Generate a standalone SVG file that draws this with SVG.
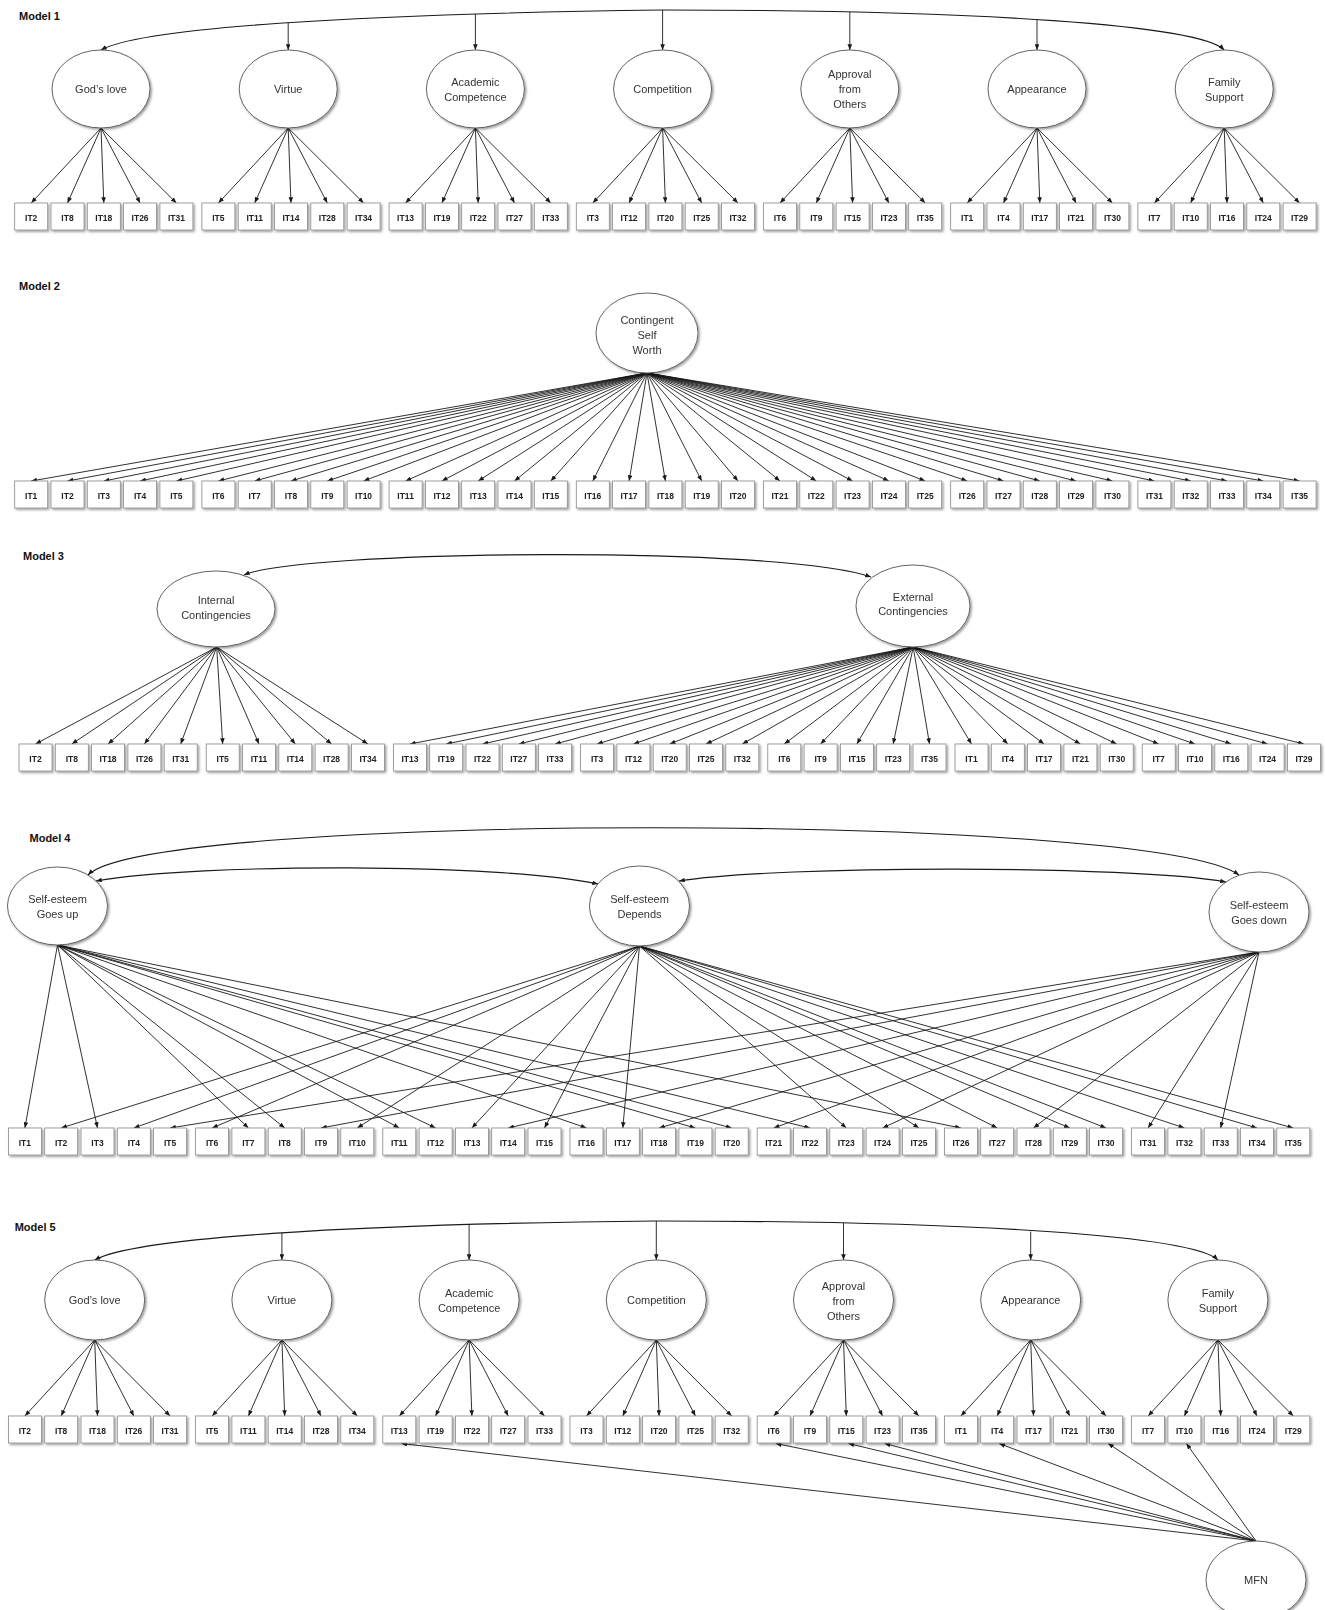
<svg xmlns="http://www.w3.org/2000/svg" width="1325" height="1610" viewBox="0 0 1325 1610">
<style>
.title{font-family:'Liberation Sans',Arial,sans-serif;font-weight:bold;font-size:11px;fill:#111}
.lab{font-family:'Liberation Sans',Arial,sans-serif;font-size:11px;fill:#333;text-anchor:middle}
.box rect{fill:#fff;stroke:#8a8a8a;stroke-width:0.8}
.box text{font-family:'Liberation Sans',Arial,sans-serif;font-weight:bold;font-size:8.5px;fill:#222;text-anchor:middle}
.lat ellipse{fill:#fff;stroke:#555;stroke-width:0.9}
.ln{stroke:#1a1a1a;stroke-width:0.9;fill:none;marker-end:url(#ah)}
.cv{stroke:#1a1a1a;stroke-width:1.1;fill:none;marker-start:url(#ah);marker-end:url(#ah)}
</style>
<defs>
<marker id="ah" viewBox="0 0 10 8" refX="10" refY="4" markerWidth="6" markerHeight="4.6" markerUnits="userSpaceOnUse" orient="auto-start-reverse"><path d="M0,0 L10,4 L0,8 z" fill="#1a1a1a"/></marker>
<filter id="sh" x="-5%" y="-5%" width="110%" height="120%"><feDropShadow dx="1.5" dy="1.5" stdDeviation="1" flood-color="#000" flood-opacity="0.4"/></filter>
</defs>
<rect width="1325" height="1610" fill="#fff"/>

<!-- ================= MODEL 1 ================= -->
<g id="model1">
<text class="title" x="19" y="20">Model 1</text>
<g transform="translate(14.7 0)">
<g id="m1-connectors">
<path class="cv" d="M86.3,50 C125.3,28 335.3,14 647.9,10 C965.3,10 1185.3,25 1209.5,50"/>
<line class="ln" x1="273.5" y1="22.6" x2="273.5" y2="50"/>
<line class="ln" x1="460.7" y1="14" x2="460.7" y2="50"/>
<line class="ln" x1="647.9" y1="10" x2="647.9" y2="50"/>
<line class="ln" x1="835.1" y1="12" x2="835.1" y2="50"/>
<line class="ln" x1="1022.3" y1="19.5" x2="1022.3" y2="50"/>
<line class="ln" x1="86.3" y1="128" x2="16.5" y2="203"/><line class="ln" x1="86.3" y1="128" x2="52.8" y2="203"/><line class="ln" x1="86.3" y1="128" x2="89.1" y2="203"/><line class="ln" x1="86.3" y1="128" x2="125.4" y2="203"/><line class="ln" x1="86.3" y1="128" x2="161.7" y2="203"/>
<line class="ln" x1="273.5" y1="128" x2="203.7" y2="203"/><line class="ln" x1="273.5" y1="128" x2="240" y2="203"/><line class="ln" x1="273.5" y1="128" x2="276.3" y2="203"/><line class="ln" x1="273.5" y1="128" x2="312.6" y2="203"/><line class="ln" x1="273.5" y1="128" x2="348.9" y2="203"/>
<line class="ln" x1="460.7" y1="128" x2="390.9" y2="203"/><line class="ln" x1="460.7" y1="128" x2="427.2" y2="203"/><line class="ln" x1="460.7" y1="128" x2="463.5" y2="203"/><line class="ln" x1="460.7" y1="128" x2="499.8" y2="203"/><line class="ln" x1="460.7" y1="128" x2="536.1" y2="203"/>
<line class="ln" x1="647.9" y1="128" x2="578.1" y2="203"/><line class="ln" x1="647.9" y1="128" x2="614.4" y2="203"/><line class="ln" x1="647.9" y1="128" x2="650.7" y2="203"/><line class="ln" x1="647.9" y1="128" x2="687" y2="203"/><line class="ln" x1="647.9" y1="128" x2="723.3" y2="203"/>
<line class="ln" x1="835.1" y1="128" x2="765.3" y2="203"/><line class="ln" x1="835.1" y1="128" x2="801.6" y2="203"/><line class="ln" x1="835.1" y1="128" x2="837.9" y2="203"/><line class="ln" x1="835.1" y1="128" x2="874.2" y2="203"/><line class="ln" x1="835.1" y1="128" x2="910.5" y2="203"/>
<line class="ln" x1="1022.3" y1="128" x2="952.5" y2="203"/><line class="ln" x1="1022.3" y1="128" x2="988.8" y2="203"/><line class="ln" x1="1022.3" y1="128" x2="1025.1" y2="203"/><line class="ln" x1="1022.3" y1="128" x2="1061.4" y2="203"/><line class="ln" x1="1022.3" y1="128" x2="1097.7" y2="203"/>
<line class="ln" x1="1209.5" y1="128" x2="1139.7" y2="203"/><line class="ln" x1="1209.5" y1="128" x2="1176" y2="203"/><line class="ln" x1="1209.5" y1="128" x2="1212.3" y2="203"/><line class="ln" x1="1209.5" y1="128" x2="1248.6" y2="203"/><line class="ln" x1="1209.5" y1="128" x2="1284.9" y2="203"/>
</g>
<g id="m1-nodes" filter="url(#sh)">
<g id="m1-gods-love" class="lat"><ellipse cx="86.3" cy="89" rx="49" ry="39"/><text class="lab" x="86.3" y="93">God’s love</text></g>
<g id="m1-virtue" class="lat"><ellipse cx="273.5" cy="89" rx="49" ry="39"/><text class="lab" x="273.5" y="93">Virtue</text></g>
<g id="m1-academic" class="lat"><ellipse cx="460.7" cy="89" rx="49" ry="39"/><text class="lab" x="460.7" y="85.5">Academic</text><text class="lab" x="460.7" y="100.5">Competence</text></g>
<g id="m1-competition" class="lat"><ellipse cx="647.9" cy="89" rx="49" ry="39"/><text class="lab" x="647.9" y="93">Competition</text></g>
<g id="m1-approval" class="lat"><ellipse cx="835.1" cy="89" rx="49" ry="39"/><text class="lab" x="835.1" y="78">Approval</text><text class="lab" x="835.1" y="93">from</text><text class="lab" x="835.1" y="108">Others</text></g>
<g id="m1-appearance" class="lat"><ellipse cx="1022.3" cy="89" rx="49" ry="39"/><text class="lab" x="1022.3" y="93">Appearance</text></g>
<g id="m1-family" class="lat"><ellipse cx="1209.5" cy="89" rx="49" ry="39"/><text class="lab" x="1209.5" y="85.5">Family</text><text class="lab" x="1209.5" y="100.5">Support</text></g>
<g id="m1-IT2" class="box" transform="translate(0 203)"><rect width="33" height="27"/><text x="16.5" y="17.5">IT2</text></g>
<g id="m1-IT8" class="box" transform="translate(36.3 203)"><rect width="33" height="27"/><text x="16.5" y="17.5">IT8</text></g>
<g id="m1-IT18" class="box" transform="translate(72.6 203)"><rect width="33" height="27"/><text x="16.5" y="17.5">IT18</text></g>
<g id="m1-IT26" class="box" transform="translate(108.9 203)"><rect width="33" height="27"/><text x="16.5" y="17.5">IT26</text></g>
<g id="m1-IT31" class="box" transform="translate(145.2 203)"><rect width="33" height="27"/><text x="16.5" y="17.5">IT31</text></g>
<g id="m1-IT5" class="box" transform="translate(187.2 203)"><rect width="33" height="27"/><text x="16.5" y="17.5">IT5</text></g>
<g id="m1-IT11" class="box" transform="translate(223.5 203)"><rect width="33" height="27"/><text x="16.5" y="17.5">IT11</text></g>
<g id="m1-IT14" class="box" transform="translate(259.8 203)"><rect width="33" height="27"/><text x="16.5" y="17.5">IT14</text></g>
<g id="m1-IT28" class="box" transform="translate(296.1 203)"><rect width="33" height="27"/><text x="16.5" y="17.5">IT28</text></g>
<g id="m1-IT34" class="box" transform="translate(332.4 203)"><rect width="33" height="27"/><text x="16.5" y="17.5">IT34</text></g>
<g id="m1-IT13" class="box" transform="translate(374.4 203)"><rect width="33" height="27"/><text x="16.5" y="17.5">IT13</text></g>
<g id="m1-IT19" class="box" transform="translate(410.7 203)"><rect width="33" height="27"/><text x="16.5" y="17.5">IT19</text></g>
<g id="m1-IT22" class="box" transform="translate(447 203)"><rect width="33" height="27"/><text x="16.5" y="17.5">IT22</text></g>
<g id="m1-IT27" class="box" transform="translate(483.3 203)"><rect width="33" height="27"/><text x="16.5" y="17.5">IT27</text></g>
<g id="m1-IT33" class="box" transform="translate(519.6 203)"><rect width="33" height="27"/><text x="16.5" y="17.5">IT33</text></g>
<g id="m1-IT3" class="box" transform="translate(561.6 203)"><rect width="33" height="27"/><text x="16.5" y="17.5">IT3</text></g>
<g id="m1-IT12" class="box" transform="translate(597.9 203)"><rect width="33" height="27"/><text x="16.5" y="17.5">IT12</text></g>
<g id="m1-IT20" class="box" transform="translate(634.2 203)"><rect width="33" height="27"/><text x="16.5" y="17.5">IT20</text></g>
<g id="m1-IT25" class="box" transform="translate(670.5 203)"><rect width="33" height="27"/><text x="16.5" y="17.5">IT25</text></g>
<g id="m1-IT32" class="box" transform="translate(706.8 203)"><rect width="33" height="27"/><text x="16.5" y="17.5">IT32</text></g>
<g id="m1-IT6" class="box" transform="translate(748.8 203)"><rect width="33" height="27"/><text x="16.5" y="17.5">IT6</text></g>
<g id="m1-IT9" class="box" transform="translate(785.1 203)"><rect width="33" height="27"/><text x="16.5" y="17.5">IT9</text></g>
<g id="m1-IT15" class="box" transform="translate(821.4 203)"><rect width="33" height="27"/><text x="16.5" y="17.5">IT15</text></g>
<g id="m1-IT23" class="box" transform="translate(857.7 203)"><rect width="33" height="27"/><text x="16.5" y="17.5">IT23</text></g>
<g id="m1-IT35" class="box" transform="translate(894 203)"><rect width="33" height="27"/><text x="16.5" y="17.5">IT35</text></g>
<g id="m1-IT1" class="box" transform="translate(936 203)"><rect width="33" height="27"/><text x="16.5" y="17.5">IT1</text></g>
<g id="m1-IT4" class="box" transform="translate(972.3 203)"><rect width="33" height="27"/><text x="16.5" y="17.5">IT4</text></g>
<g id="m1-IT17" class="box" transform="translate(1008.6 203)"><rect width="33" height="27"/><text x="16.5" y="17.5">IT17</text></g>
<g id="m1-IT21" class="box" transform="translate(1044.9 203)"><rect width="33" height="27"/><text x="16.5" y="17.5">IT21</text></g>
<g id="m1-IT30" class="box" transform="translate(1081.2 203)"><rect width="33" height="27"/><text x="16.5" y="17.5">IT30</text></g>
<g id="m1-IT7" class="box" transform="translate(1123.2 203)"><rect width="33" height="27"/><text x="16.5" y="17.5">IT7</text></g>
<g id="m1-IT10" class="box" transform="translate(1159.5 203)"><rect width="33" height="27"/><text x="16.5" y="17.5">IT10</text></g>
<g id="m1-IT16" class="box" transform="translate(1195.8 203)"><rect width="33" height="27"/><text x="16.5" y="17.5">IT16</text></g>
<g id="m1-IT24" class="box" transform="translate(1232.1 203)"><rect width="33" height="27"/><text x="16.5" y="17.5">IT24</text></g>
<g id="m1-IT29" class="box" transform="translate(1268.4 203)"><rect width="33" height="27"/><text x="16.5" y="17.5">IT29</text></g>
</g>
</g>
</g>

<!-- ================= MODEL 2 ================= -->
<g id="model2">
<text class="title" x="19" y="290">Model 2</text>
<g transform="translate(14.7 0)">
<g id="m2-connectors">
<line class="ln" x1="632.3" y1="373" x2="16.5" y2="481"/><line class="ln" x1="632.3" y1="373" x2="52.8" y2="481"/><line class="ln" x1="632.3" y1="373" x2="89.1" y2="481"/><line class="ln" x1="632.3" y1="373" x2="125.4" y2="481"/><line class="ln" x1="632.3" y1="373" x2="161.7" y2="481"/>
<line class="ln" x1="632.3" y1="373" x2="203.7" y2="481"/><line class="ln" x1="632.3" y1="373" x2="240" y2="481"/><line class="ln" x1="632.3" y1="373" x2="276.3" y2="481"/><line class="ln" x1="632.3" y1="373" x2="312.6" y2="481"/><line class="ln" x1="632.3" y1="373" x2="348.9" y2="481"/>
<line class="ln" x1="632.3" y1="373" x2="390.9" y2="481"/><line class="ln" x1="632.3" y1="373" x2="427.2" y2="481"/><line class="ln" x1="632.3" y1="373" x2="463.5" y2="481"/><line class="ln" x1="632.3" y1="373" x2="499.8" y2="481"/><line class="ln" x1="632.3" y1="373" x2="536.1" y2="481"/>
<line class="ln" x1="632.3" y1="373" x2="578.1" y2="481"/><line class="ln" x1="632.3" y1="373" x2="614.4" y2="481"/><line class="ln" x1="632.3" y1="373" x2="650.7" y2="481"/><line class="ln" x1="632.3" y1="373" x2="687" y2="481"/><line class="ln" x1="632.3" y1="373" x2="723.3" y2="481"/>
<line class="ln" x1="632.3" y1="373" x2="765.3" y2="481"/><line class="ln" x1="632.3" y1="373" x2="801.6" y2="481"/><line class="ln" x1="632.3" y1="373" x2="837.9" y2="481"/><line class="ln" x1="632.3" y1="373" x2="874.2" y2="481"/><line class="ln" x1="632.3" y1="373" x2="910.5" y2="481"/>
<line class="ln" x1="632.3" y1="373" x2="952.5" y2="481"/><line class="ln" x1="632.3" y1="373" x2="988.8" y2="481"/><line class="ln" x1="632.3" y1="373" x2="1025.1" y2="481"/><line class="ln" x1="632.3" y1="373" x2="1061.4" y2="481"/><line class="ln" x1="632.3" y1="373" x2="1097.7" y2="481"/>
<line class="ln" x1="632.3" y1="373" x2="1139.7" y2="481"/><line class="ln" x1="632.3" y1="373" x2="1176" y2="481"/><line class="ln" x1="632.3" y1="373" x2="1212.3" y2="481"/><line class="ln" x1="632.3" y1="373" x2="1248.6" y2="481"/><line class="ln" x1="632.3" y1="373" x2="1284.9" y2="481"/>
</g>
<g id="m2-nodes" filter="url(#sh)">
<g id="m2-csw" class="lat"><ellipse cx="632.3" cy="333" rx="51" ry="40"/><text class="lab" x="632.3" y="323.5">Contingent</text><text class="lab" x="632.3" y="338.5">Self</text><text class="lab" x="632.3" y="353.5">Worth</text></g>
<g id="m2-IT1" class="box" transform="translate(0 481)"><rect width="33" height="27"/><text x="16.5" y="17.5">IT1</text></g>
<g id="m2-IT2" class="box" transform="translate(36.3 481)"><rect width="33" height="27"/><text x="16.5" y="17.5">IT2</text></g>
<g id="m2-IT3" class="box" transform="translate(72.6 481)"><rect width="33" height="27"/><text x="16.5" y="17.5">IT3</text></g>
<g id="m2-IT4" class="box" transform="translate(108.9 481)"><rect width="33" height="27"/><text x="16.5" y="17.5">IT4</text></g>
<g id="m2-IT5" class="box" transform="translate(145.2 481)"><rect width="33" height="27"/><text x="16.5" y="17.5">IT5</text></g>
<g id="m2-IT6" class="box" transform="translate(187.2 481)"><rect width="33" height="27"/><text x="16.5" y="17.5">IT6</text></g>
<g id="m2-IT7" class="box" transform="translate(223.5 481)"><rect width="33" height="27"/><text x="16.5" y="17.5">IT7</text></g>
<g id="m2-IT8" class="box" transform="translate(259.8 481)"><rect width="33" height="27"/><text x="16.5" y="17.5">IT8</text></g>
<g id="m2-IT9" class="box" transform="translate(296.1 481)"><rect width="33" height="27"/><text x="16.5" y="17.5">IT9</text></g>
<g id="m2-IT10" class="box" transform="translate(332.4 481)"><rect width="33" height="27"/><text x="16.5" y="17.5">IT10</text></g>
<g id="m2-IT11" class="box" transform="translate(374.4 481)"><rect width="33" height="27"/><text x="16.5" y="17.5">IT11</text></g>
<g id="m2-IT12" class="box" transform="translate(410.7 481)"><rect width="33" height="27"/><text x="16.5" y="17.5">IT12</text></g>
<g id="m2-IT13" class="box" transform="translate(447 481)"><rect width="33" height="27"/><text x="16.5" y="17.5">IT13</text></g>
<g id="m2-IT14" class="box" transform="translate(483.3 481)"><rect width="33" height="27"/><text x="16.5" y="17.5">IT14</text></g>
<g id="m2-IT15" class="box" transform="translate(519.6 481)"><rect width="33" height="27"/><text x="16.5" y="17.5">IT15</text></g>
<g id="m2-IT16" class="box" transform="translate(561.6 481)"><rect width="33" height="27"/><text x="16.5" y="17.5">IT16</text></g>
<g id="m2-IT17" class="box" transform="translate(597.9 481)"><rect width="33" height="27"/><text x="16.5" y="17.5">IT17</text></g>
<g id="m2-IT18" class="box" transform="translate(634.2 481)"><rect width="33" height="27"/><text x="16.5" y="17.5">IT18</text></g>
<g id="m2-IT19" class="box" transform="translate(670.5 481)"><rect width="33" height="27"/><text x="16.5" y="17.5">IT19</text></g>
<g id="m2-IT20" class="box" transform="translate(706.8 481)"><rect width="33" height="27"/><text x="16.5" y="17.5">IT20</text></g>
<g id="m2-IT21" class="box" transform="translate(748.8 481)"><rect width="33" height="27"/><text x="16.5" y="17.5">IT21</text></g>
<g id="m2-IT22" class="box" transform="translate(785.1 481)"><rect width="33" height="27"/><text x="16.5" y="17.5">IT22</text></g>
<g id="m2-IT23" class="box" transform="translate(821.4 481)"><rect width="33" height="27"/><text x="16.5" y="17.5">IT23</text></g>
<g id="m2-IT24" class="box" transform="translate(857.7 481)"><rect width="33" height="27"/><text x="16.5" y="17.5">IT24</text></g>
<g id="m2-IT25" class="box" transform="translate(894 481)"><rect width="33" height="27"/><text x="16.5" y="17.5">IT25</text></g>
<g id="m2-IT26" class="box" transform="translate(936 481)"><rect width="33" height="27"/><text x="16.5" y="17.5">IT26</text></g>
<g id="m2-IT27" class="box" transform="translate(972.3 481)"><rect width="33" height="27"/><text x="16.5" y="17.5">IT27</text></g>
<g id="m2-IT28" class="box" transform="translate(1008.6 481)"><rect width="33" height="27"/><text x="16.5" y="17.5">IT28</text></g>
<g id="m2-IT29" class="box" transform="translate(1044.9 481)"><rect width="33" height="27"/><text x="16.5" y="17.5">IT29</text></g>
<g id="m2-IT30" class="box" transform="translate(1081.2 481)"><rect width="33" height="27"/><text x="16.5" y="17.5">IT30</text></g>
<g id="m2-IT31" class="box" transform="translate(1123.2 481)"><rect width="33" height="27"/><text x="16.5" y="17.5">IT31</text></g>
<g id="m2-IT32" class="box" transform="translate(1159.5 481)"><rect width="33" height="27"/><text x="16.5" y="17.5">IT32</text></g>
<g id="m2-IT33" class="box" transform="translate(1195.8 481)"><rect width="33" height="27"/><text x="16.5" y="17.5">IT33</text></g>
<g id="m2-IT34" class="box" transform="translate(1232.1 481)"><rect width="33" height="27"/><text x="16.5" y="17.5">IT34</text></g>
<g id="m2-IT35" class="box" transform="translate(1268.4 481)"><rect width="33" height="27"/><text x="16.5" y="17.5">IT35</text></g>
</g>
</g>
</g>

<!-- ================= MODEL 3 ================= -->
<g id="model3">
<text class="title" x="23" y="560">Model 3</text>
<g transform="translate(19 0)">
<g id="m3-connectors">
<path class="cv" d="M225,575 C281,550 761,545 852,577"/>
<line class="ln" x1="197.7" y1="647" x2="16.5" y2="744"/><line class="ln" x1="197.7" y1="647" x2="52.8" y2="744"/><line class="ln" x1="197.7" y1="647" x2="89.1" y2="744"/><line class="ln" x1="197.7" y1="647" x2="125.4" y2="744"/><line class="ln" x1="197.7" y1="647" x2="161.7" y2="744"/>
<line class="ln" x1="197.7" y1="647" x2="203.7" y2="744"/><line class="ln" x1="197.7" y1="647" x2="240" y2="744"/><line class="ln" x1="197.7" y1="647" x2="276.3" y2="744"/><line class="ln" x1="197.7" y1="647" x2="312.6" y2="744"/><line class="ln" x1="197.7" y1="647" x2="348.9" y2="744"/>
<line class="ln" x1="894.2" y1="647" x2="390.9" y2="744"/><line class="ln" x1="894.2" y1="647" x2="427.2" y2="744"/><line class="ln" x1="894.2" y1="647" x2="463.5" y2="744"/><line class="ln" x1="894.2" y1="647" x2="499.8" y2="744"/><line class="ln" x1="894.2" y1="647" x2="536.1" y2="744"/>
<line class="ln" x1="894.2" y1="647" x2="578.1" y2="744"/><line class="ln" x1="894.2" y1="647" x2="614.4" y2="744"/><line class="ln" x1="894.2" y1="647" x2="650.7" y2="744"/><line class="ln" x1="894.2" y1="647" x2="687" y2="744"/><line class="ln" x1="894.2" y1="647" x2="723.3" y2="744"/>
<line class="ln" x1="894.2" y1="647" x2="765.3" y2="744"/><line class="ln" x1="894.2" y1="647" x2="801.6" y2="744"/><line class="ln" x1="894.2" y1="647" x2="837.9" y2="744"/><line class="ln" x1="894.2" y1="647" x2="874.2" y2="744"/><line class="ln" x1="894.2" y1="647" x2="910.5" y2="744"/>
<line class="ln" x1="894.2" y1="647" x2="952.5" y2="744"/><line class="ln" x1="894.2" y1="647" x2="988.8" y2="744"/><line class="ln" x1="894.2" y1="647" x2="1025.1" y2="744"/><line class="ln" x1="894.2" y1="647" x2="1061.4" y2="744"/><line class="ln" x1="894.2" y1="647" x2="1097.7" y2="744"/>
<line class="ln" x1="894.2" y1="647" x2="1139.7" y2="744"/><line class="ln" x1="894.2" y1="647" x2="1176" y2="744"/><line class="ln" x1="894.2" y1="647" x2="1212.3" y2="744"/><line class="ln" x1="894.2" y1="647" x2="1248.6" y2="744"/><line class="ln" x1="894.2" y1="647" x2="1284.9" y2="744"/>
</g>
<g id="m3-nodes" filter="url(#sh)">
<g id="m3-internal" class="lat"><ellipse cx="197" cy="609" rx="59" ry="38"/><text class="lab" x="197" y="604">Internal</text><text class="lab" x="197" y="618.5">Contingencies</text></g>
<g id="m3-external" class="lat"><ellipse cx="894" cy="606" rx="57" ry="41"/><text class="lab" x="894" y="600.5">External</text><text class="lab" x="894" y="615">Contingencies</text></g>
<g id="m3-IT2" class="box" transform="translate(0 744)"><rect width="33" height="27"/><text x="16.5" y="17.5">IT2</text></g>
<g id="m3-IT8" class="box" transform="translate(36.3 744)"><rect width="33" height="27"/><text x="16.5" y="17.5">IT8</text></g>
<g id="m3-IT18" class="box" transform="translate(72.6 744)"><rect width="33" height="27"/><text x="16.5" y="17.5">IT18</text></g>
<g id="m3-IT26" class="box" transform="translate(108.9 744)"><rect width="33" height="27"/><text x="16.5" y="17.5">IT26</text></g>
<g id="m3-IT31" class="box" transform="translate(145.2 744)"><rect width="33" height="27"/><text x="16.5" y="17.5">IT31</text></g>
<g id="m3-IT5" class="box" transform="translate(187.2 744)"><rect width="33" height="27"/><text x="16.5" y="17.5">IT5</text></g>
<g id="m3-IT11" class="box" transform="translate(223.5 744)"><rect width="33" height="27"/><text x="16.5" y="17.5">IT11</text></g>
<g id="m3-IT14" class="box" transform="translate(259.8 744)"><rect width="33" height="27"/><text x="16.5" y="17.5">IT14</text></g>
<g id="m3-IT28" class="box" transform="translate(296.1 744)"><rect width="33" height="27"/><text x="16.5" y="17.5">IT28</text></g>
<g id="m3-IT34" class="box" transform="translate(332.4 744)"><rect width="33" height="27"/><text x="16.5" y="17.5">IT34</text></g>
<g id="m3-IT13" class="box" transform="translate(374.4 744)"><rect width="33" height="27"/><text x="16.5" y="17.5">IT13</text></g>
<g id="m3-IT19" class="box" transform="translate(410.7 744)"><rect width="33" height="27"/><text x="16.5" y="17.5">IT19</text></g>
<g id="m3-IT22" class="box" transform="translate(447 744)"><rect width="33" height="27"/><text x="16.5" y="17.5">IT22</text></g>
<g id="m3-IT27" class="box" transform="translate(483.3 744)"><rect width="33" height="27"/><text x="16.5" y="17.5">IT27</text></g>
<g id="m3-IT33" class="box" transform="translate(519.6 744)"><rect width="33" height="27"/><text x="16.5" y="17.5">IT33</text></g>
<g id="m3-IT3" class="box" transform="translate(561.6 744)"><rect width="33" height="27"/><text x="16.5" y="17.5">IT3</text></g>
<g id="m3-IT12" class="box" transform="translate(597.9 744)"><rect width="33" height="27"/><text x="16.5" y="17.5">IT12</text></g>
<g id="m3-IT20" class="box" transform="translate(634.2 744)"><rect width="33" height="27"/><text x="16.5" y="17.5">IT20</text></g>
<g id="m3-IT25" class="box" transform="translate(670.5 744)"><rect width="33" height="27"/><text x="16.5" y="17.5">IT25</text></g>
<g id="m3-IT32" class="box" transform="translate(706.8 744)"><rect width="33" height="27"/><text x="16.5" y="17.5">IT32</text></g>
<g id="m3-IT6" class="box" transform="translate(748.8 744)"><rect width="33" height="27"/><text x="16.5" y="17.5">IT6</text></g>
<g id="m3-IT9" class="box" transform="translate(785.1 744)"><rect width="33" height="27"/><text x="16.5" y="17.5">IT9</text></g>
<g id="m3-IT15" class="box" transform="translate(821.4 744)"><rect width="33" height="27"/><text x="16.5" y="17.5">IT15</text></g>
<g id="m3-IT23" class="box" transform="translate(857.7 744)"><rect width="33" height="27"/><text x="16.5" y="17.5">IT23</text></g>
<g id="m3-IT35" class="box" transform="translate(894 744)"><rect width="33" height="27"/><text x="16.5" y="17.5">IT35</text></g>
<g id="m3-IT1" class="box" transform="translate(936 744)"><rect width="33" height="27"/><text x="16.5" y="17.5">IT1</text></g>
<g id="m3-IT4" class="box" transform="translate(972.3 744)"><rect width="33" height="27"/><text x="16.5" y="17.5">IT4</text></g>
<g id="m3-IT17" class="box" transform="translate(1008.6 744)"><rect width="33" height="27"/><text x="16.5" y="17.5">IT17</text></g>
<g id="m3-IT21" class="box" transform="translate(1044.9 744)"><rect width="33" height="27"/><text x="16.5" y="17.5">IT21</text></g>
<g id="m3-IT30" class="box" transform="translate(1081.2 744)"><rect width="33" height="27"/><text x="16.5" y="17.5">IT30</text></g>
<g id="m3-IT7" class="box" transform="translate(1123.2 744)"><rect width="33" height="27"/><text x="16.5" y="17.5">IT7</text></g>
<g id="m3-IT10" class="box" transform="translate(1159.5 744)"><rect width="33" height="27"/><text x="16.5" y="17.5">IT10</text></g>
<g id="m3-IT16" class="box" transform="translate(1195.8 744)"><rect width="33" height="27"/><text x="16.5" y="17.5">IT16</text></g>
<g id="m3-IT24" class="box" transform="translate(1232.1 744)"><rect width="33" height="27"/><text x="16.5" y="17.5">IT24</text></g>
<g id="m3-IT29" class="box" transform="translate(1268.4 744)"><rect width="33" height="27"/><text x="16.5" y="17.5">IT29</text></g>
</g>
</g>
</g>

<!-- ================= MODEL 4 ================= -->
<g id="model4">
<text class="title" x="29.5" y="842">Model 4</text>
<g transform="translate(8.4 0)">
<g id="m4-connectors">
<path class="cv" d="M79.6,875 C141.6,812 1141.6,812 1230.6,875"/>
<path class="cv" d="M87.6,881 C191.6,863 491.6,863 589.6,884"/>
<path class="cv" d="M670.6,881 C771.6,865 1121.6,865 1217.6,882"/>
<line class="ln" x1="49.1" y1="945" x2="16.5" y2="1128"/><line class="ln" x1="49.1" y1="945" x2="89.1" y2="1128"/><line class="ln" x1="49.1" y1="945" x2="240" y2="1128"/><line class="ln" x1="49.1" y1="945" x2="276.3" y2="1128"/><line class="ln" x1="49.1" y1="945" x2="390.9" y2="1128"/><line class="ln" x1="49.1" y1="945" x2="427.2" y2="1128"/><line class="ln" x1="49.1" y1="945" x2="578.1" y2="1128"/><line class="ln" x1="49.1" y1="945" x2="687" y2="1128"/><line class="ln" x1="49.1" y1="945" x2="723.3" y2="1128"/><line class="ln" x1="49.1" y1="945" x2="801.6" y2="1128"/><line class="ln" x1="49.1" y1="945" x2="952.5" y2="1128"/>
<line class="ln" x1="631.1" y1="946" x2="52.8" y2="1128"/><line class="ln" x1="631.1" y1="946" x2="125.4" y2="1128"/><line class="ln" x1="631.1" y1="946" x2="203.7" y2="1128"/><line class="ln" x1="631.1" y1="946" x2="348.9" y2="1128"/><line class="ln" x1="631.1" y1="946" x2="463.5" y2="1128"/><line class="ln" x1="631.1" y1="946" x2="536.1" y2="1128"/><line class="ln" x1="631.1" y1="946" x2="614.4" y2="1128"/><line class="ln" x1="631.1" y1="946" x2="837.9" y2="1128"/><line class="ln" x1="631.1" y1="946" x2="910.5" y2="1128"/><line class="ln" x1="631.1" y1="946" x2="988.8" y2="1128"/><line class="ln" x1="631.1" y1="946" x2="1061.4" y2="1128"/><line class="ln" x1="631.1" y1="946" x2="1097.7" y2="1128"/><line class="ln" x1="631.1" y1="946" x2="1176" y2="1128"/><line class="ln" x1="631.1" y1="946" x2="1248.6" y2="1128"/><line class="ln" x1="631.1" y1="946" x2="1284.9" y2="1128"/>
<line class="ln" x1="1250.6" y1="952" x2="161.7" y2="1128"/><line class="ln" x1="1250.6" y1="952" x2="312.6" y2="1128"/><line class="ln" x1="1250.6" y1="952" x2="499.8" y2="1128"/><line class="ln" x1="1250.6" y1="952" x2="650.7" y2="1128"/><line class="ln" x1="1250.6" y1="952" x2="765.3" y2="1128"/><line class="ln" x1="1250.6" y1="952" x2="874.2" y2="1128"/><line class="ln" x1="1250.6" y1="952" x2="1025.1" y2="1128"/><line class="ln" x1="1250.6" y1="952" x2="1139.7" y2="1128"/><line class="ln" x1="1250.6" y1="952" x2="1212.3" y2="1128"/>
</g>
<g id="m4-nodes" filter="url(#sh)">
<g id="m4-goes-up" class="lat"><ellipse cx="49.1" cy="906" rx="50" ry="39"/><text class="lab" x="49.1" y="903">Self-esteem</text><text class="lab" x="49.1" y="917.5">Goes up</text></g>
<g id="m4-depends" class="lat"><ellipse cx="631.1" cy="906" rx="50" ry="40"/><text class="lab" x="631.1" y="903">Self-esteem</text><text class="lab" x="631.1" y="917.5">Depends</text></g>
<g id="m4-goes-down" class="lat"><ellipse cx="1250.6" cy="912" rx="50" ry="40"/><text class="lab" x="1250.6" y="909">Self-esteem</text><text class="lab" x="1250.6" y="923.5">Goes down</text></g>
<g id="m4-IT1" class="box" transform="translate(0 1128)"><rect width="33" height="27"/><text x="16.5" y="17.5">IT1</text></g>
<g id="m4-IT2" class="box" transform="translate(36.3 1128)"><rect width="33" height="27"/><text x="16.5" y="17.5">IT2</text></g>
<g id="m4-IT3" class="box" transform="translate(72.6 1128)"><rect width="33" height="27"/><text x="16.5" y="17.5">IT3</text></g>
<g id="m4-IT4" class="box" transform="translate(108.9 1128)"><rect width="33" height="27"/><text x="16.5" y="17.5">IT4</text></g>
<g id="m4-IT5" class="box" transform="translate(145.2 1128)"><rect width="33" height="27"/><text x="16.5" y="17.5">IT5</text></g>
<g id="m4-IT6" class="box" transform="translate(187.2 1128)"><rect width="33" height="27"/><text x="16.5" y="17.5">IT6</text></g>
<g id="m4-IT7" class="box" transform="translate(223.5 1128)"><rect width="33" height="27"/><text x="16.5" y="17.5">IT7</text></g>
<g id="m4-IT8" class="box" transform="translate(259.8 1128)"><rect width="33" height="27"/><text x="16.5" y="17.5">IT8</text></g>
<g id="m4-IT9" class="box" transform="translate(296.1 1128)"><rect width="33" height="27"/><text x="16.5" y="17.5">IT9</text></g>
<g id="m4-IT10" class="box" transform="translate(332.4 1128)"><rect width="33" height="27"/><text x="16.5" y="17.5">IT10</text></g>
<g id="m4-IT11" class="box" transform="translate(374.4 1128)"><rect width="33" height="27"/><text x="16.5" y="17.5">IT11</text></g>
<g id="m4-IT12" class="box" transform="translate(410.7 1128)"><rect width="33" height="27"/><text x="16.5" y="17.5">IT12</text></g>
<g id="m4-IT13" class="box" transform="translate(447 1128)"><rect width="33" height="27"/><text x="16.5" y="17.5">IT13</text></g>
<g id="m4-IT14" class="box" transform="translate(483.3 1128)"><rect width="33" height="27"/><text x="16.5" y="17.5">IT14</text></g>
<g id="m4-IT15" class="box" transform="translate(519.6 1128)"><rect width="33" height="27"/><text x="16.5" y="17.5">IT15</text></g>
<g id="m4-IT16" class="box" transform="translate(561.6 1128)"><rect width="33" height="27"/><text x="16.5" y="17.5">IT16</text></g>
<g id="m4-IT17" class="box" transform="translate(597.9 1128)"><rect width="33" height="27"/><text x="16.5" y="17.5">IT17</text></g>
<g id="m4-IT18" class="box" transform="translate(634.2 1128)"><rect width="33" height="27"/><text x="16.5" y="17.5">IT18</text></g>
<g id="m4-IT19" class="box" transform="translate(670.5 1128)"><rect width="33" height="27"/><text x="16.5" y="17.5">IT19</text></g>
<g id="m4-IT20" class="box" transform="translate(706.8 1128)"><rect width="33" height="27"/><text x="16.5" y="17.5">IT20</text></g>
<g id="m4-IT21" class="box" transform="translate(748.8 1128)"><rect width="33" height="27"/><text x="16.5" y="17.5">IT21</text></g>
<g id="m4-IT22" class="box" transform="translate(785.1 1128)"><rect width="33" height="27"/><text x="16.5" y="17.5">IT22</text></g>
<g id="m4-IT23" class="box" transform="translate(821.4 1128)"><rect width="33" height="27"/><text x="16.5" y="17.5">IT23</text></g>
<g id="m4-IT24" class="box" transform="translate(857.7 1128)"><rect width="33" height="27"/><text x="16.5" y="17.5">IT24</text></g>
<g id="m4-IT25" class="box" transform="translate(894 1128)"><rect width="33" height="27"/><text x="16.5" y="17.5">IT25</text></g>
<g id="m4-IT26" class="box" transform="translate(936 1128)"><rect width="33" height="27"/><text x="16.5" y="17.5">IT26</text></g>
<g id="m4-IT27" class="box" transform="translate(972.3 1128)"><rect width="33" height="27"/><text x="16.5" y="17.5">IT27</text></g>
<g id="m4-IT28" class="box" transform="translate(1008.6 1128)"><rect width="33" height="27"/><text x="16.5" y="17.5">IT28</text></g>
<g id="m4-IT29" class="box" transform="translate(1044.9 1128)"><rect width="33" height="27"/><text x="16.5" y="17.5">IT29</text></g>
<g id="m4-IT30" class="box" transform="translate(1081.2 1128)"><rect width="33" height="27"/><text x="16.5" y="17.5">IT30</text></g>
<g id="m4-IT31" class="box" transform="translate(1123.2 1128)"><rect width="33" height="27"/><text x="16.5" y="17.5">IT31</text></g>
<g id="m4-IT32" class="box" transform="translate(1159.5 1128)"><rect width="33" height="27"/><text x="16.5" y="17.5">IT32</text></g>
<g id="m4-IT33" class="box" transform="translate(1195.8 1128)"><rect width="33" height="27"/><text x="16.5" y="17.5">IT33</text></g>
<g id="m4-IT34" class="box" transform="translate(1232.1 1128)"><rect width="33" height="27"/><text x="16.5" y="17.5">IT34</text></g>
<g id="m4-IT35" class="box" transform="translate(1268.4 1128)"><rect width="33" height="27"/><text x="16.5" y="17.5">IT35</text></g>
</g>
</g>
</g>

<!-- ================= MODEL 5 ================= -->
<g id="model5">
<text class="title" x="14.7" y="1231">Model 5</text>
<g transform="translate(8.4 0)">
<g id="m5-connectors">
<path class="cv" d="M86.3,1260 C125.3,1238 335.3,1224 647.9,1221 C965.3,1221 1185.3,1236 1209.5,1260"/>
<line class="ln" x1="273.5" y1="1233" x2="273.5" y2="1260"/>
<line class="ln" x1="460.7" y1="1225" x2="460.7" y2="1260"/>
<line class="ln" x1="647.9" y1="1221" x2="647.9" y2="1260"/>
<line class="ln" x1="835.1" y1="1223" x2="835.1" y2="1260"/>
<line class="ln" x1="1022.3" y1="1231.5" x2="1022.3" y2="1260"/>
<line class="ln" x1="86.3" y1="1340" x2="16.5" y2="1416"/><line class="ln" x1="86.3" y1="1340" x2="52.8" y2="1416"/><line class="ln" x1="86.3" y1="1340" x2="89.1" y2="1416"/><line class="ln" x1="86.3" y1="1340" x2="125.4" y2="1416"/><line class="ln" x1="86.3" y1="1340" x2="161.7" y2="1416"/>
<line class="ln" x1="273.5" y1="1340" x2="203.7" y2="1416"/><line class="ln" x1="273.5" y1="1340" x2="240" y2="1416"/><line class="ln" x1="273.5" y1="1340" x2="276.3" y2="1416"/><line class="ln" x1="273.5" y1="1340" x2="312.6" y2="1416"/><line class="ln" x1="273.5" y1="1340" x2="348.9" y2="1416"/>
<line class="ln" x1="460.7" y1="1340" x2="390.9" y2="1416"/><line class="ln" x1="460.7" y1="1340" x2="427.2" y2="1416"/><line class="ln" x1="460.7" y1="1340" x2="463.5" y2="1416"/><line class="ln" x1="460.7" y1="1340" x2="499.8" y2="1416"/><line class="ln" x1="460.7" y1="1340" x2="536.1" y2="1416"/>
<line class="ln" x1="647.9" y1="1340" x2="578.1" y2="1416"/><line class="ln" x1="647.9" y1="1340" x2="614.4" y2="1416"/><line class="ln" x1="647.9" y1="1340" x2="650.7" y2="1416"/><line class="ln" x1="647.9" y1="1340" x2="687" y2="1416"/><line class="ln" x1="647.9" y1="1340" x2="723.3" y2="1416"/>
<line class="ln" x1="835.1" y1="1340" x2="765.3" y2="1416"/><line class="ln" x1="835.1" y1="1340" x2="801.6" y2="1416"/><line class="ln" x1="835.1" y1="1340" x2="837.9" y2="1416"/><line class="ln" x1="835.1" y1="1340" x2="874.2" y2="1416"/><line class="ln" x1="835.1" y1="1340" x2="910.5" y2="1416"/>
<line class="ln" x1="1022.3" y1="1340" x2="952.5" y2="1416"/><line class="ln" x1="1022.3" y1="1340" x2="988.8" y2="1416"/><line class="ln" x1="1022.3" y1="1340" x2="1025.1" y2="1416"/><line class="ln" x1="1022.3" y1="1340" x2="1061.4" y2="1416"/><line class="ln" x1="1022.3" y1="1340" x2="1097.7" y2="1416"/>
<line class="ln" x1="1209.5" y1="1340" x2="1139.7" y2="1416"/><line class="ln" x1="1209.5" y1="1340" x2="1176" y2="1416"/><line class="ln" x1="1209.5" y1="1340" x2="1212.3" y2="1416"/><line class="ln" x1="1209.5" y1="1340" x2="1248.6" y2="1416"/><line class="ln" x1="1209.5" y1="1340" x2="1284.9" y2="1416"/>
<line class="ln" x1="1247.6" y1="1541" x2="392.9" y2="1443.5"/>
<line class="ln" x1="1247.6" y1="1541" x2="767.3" y2="1443.5"/>
<line class="ln" x1="1247.6" y1="1541" x2="839.9" y2="1443.5"/>
<line class="ln" x1="1247.6" y1="1541" x2="876.2" y2="1443.5"/>
<line class="ln" x1="1247.6" y1="1541" x2="990.8" y2="1443.5"/>
<line class="ln" x1="1247.6" y1="1541" x2="1099.7" y2="1443.5"/>
<line class="ln" x1="1247.6" y1="1541" x2="1178" y2="1443.5"/>
</g>
<g id="m5-nodes" filter="url(#sh)">
<g id="m5-gods-love" class="lat"><ellipse cx="86.3" cy="1300" rx="50" ry="40"/><text class="lab" x="86.3" y="1304">God’s love</text></g>
<g id="m5-virtue" class="lat"><ellipse cx="273.5" cy="1300" rx="50" ry="40"/><text class="lab" x="273.5" y="1304">Virtue</text></g>
<g id="m5-academic" class="lat"><ellipse cx="460.7" cy="1300" rx="50" ry="40"/><text class="lab" x="460.7" y="1297">Academic</text><text class="lab" x="460.7" y="1312">Competence</text></g>
<g id="m5-competition" class="lat"><ellipse cx="647.9" cy="1300" rx="50" ry="40"/><text class="lab" x="647.9" y="1304">Competition</text></g>
<g id="m5-approval" class="lat"><ellipse cx="835.1" cy="1300" rx="50" ry="40"/><text class="lab" x="835.1" y="1289.5">Approval</text><text class="lab" x="835.1" y="1304.5">from</text><text class="lab" x="835.1" y="1319.5">Others</text></g>
<g id="m5-appearance" class="lat"><ellipse cx="1022.3" cy="1300" rx="50" ry="40"/><text class="lab" x="1022.3" y="1304">Appearance</text></g>
<g id="m5-family" class="lat"><ellipse cx="1209.5" cy="1300" rx="50" ry="40"/><text class="lab" x="1209.5" y="1297">Family</text><text class="lab" x="1209.5" y="1312">Support</text></g>
<g id="m5-mfn" class="lat"><ellipse cx="1247.6" cy="1580" rx="50" ry="39"/><text class="lab" x="1247.6" y="1584">MFN</text></g>
<g id="m5-IT2" class="box" transform="translate(0 1416)"><rect width="33" height="27"/><text x="16.5" y="17.5">IT2</text></g>
<g id="m5-IT8" class="box" transform="translate(36.3 1416)"><rect width="33" height="27"/><text x="16.5" y="17.5">IT8</text></g>
<g id="m5-IT18" class="box" transform="translate(72.6 1416)"><rect width="33" height="27"/><text x="16.5" y="17.5">IT18</text></g>
<g id="m5-IT26" class="box" transform="translate(108.9 1416)"><rect width="33" height="27"/><text x="16.5" y="17.5">IT26</text></g>
<g id="m5-IT31" class="box" transform="translate(145.2 1416)"><rect width="33" height="27"/><text x="16.5" y="17.5">IT31</text></g>
<g id="m5-IT5" class="box" transform="translate(187.2 1416)"><rect width="33" height="27"/><text x="16.5" y="17.5">IT5</text></g>
<g id="m5-IT11" class="box" transform="translate(223.5 1416)"><rect width="33" height="27"/><text x="16.5" y="17.5">IT11</text></g>
<g id="m5-IT14" class="box" transform="translate(259.8 1416)"><rect width="33" height="27"/><text x="16.5" y="17.5">IT14</text></g>
<g id="m5-IT28" class="box" transform="translate(296.1 1416)"><rect width="33" height="27"/><text x="16.5" y="17.5">IT28</text></g>
<g id="m5-IT34" class="box" transform="translate(332.4 1416)"><rect width="33" height="27"/><text x="16.5" y="17.5">IT34</text></g>
<g id="m5-IT13" class="box" transform="translate(374.4 1416)"><rect width="33" height="27"/><text x="16.5" y="17.5">IT13</text></g>
<g id="m5-IT19" class="box" transform="translate(410.7 1416)"><rect width="33" height="27"/><text x="16.5" y="17.5">IT19</text></g>
<g id="m5-IT22" class="box" transform="translate(447 1416)"><rect width="33" height="27"/><text x="16.5" y="17.5">IT22</text></g>
<g id="m5-IT27" class="box" transform="translate(483.3 1416)"><rect width="33" height="27"/><text x="16.5" y="17.5">IT27</text></g>
<g id="m5-IT33" class="box" transform="translate(519.6 1416)"><rect width="33" height="27"/><text x="16.5" y="17.5">IT33</text></g>
<g id="m5-IT3" class="box" transform="translate(561.6 1416)"><rect width="33" height="27"/><text x="16.5" y="17.5">IT3</text></g>
<g id="m5-IT12" class="box" transform="translate(597.9 1416)"><rect width="33" height="27"/><text x="16.5" y="17.5">IT12</text></g>
<g id="m5-IT20" class="box" transform="translate(634.2 1416)"><rect width="33" height="27"/><text x="16.5" y="17.5">IT20</text></g>
<g id="m5-IT25" class="box" transform="translate(670.5 1416)"><rect width="33" height="27"/><text x="16.5" y="17.5">IT25</text></g>
<g id="m5-IT32" class="box" transform="translate(706.8 1416)"><rect width="33" height="27"/><text x="16.5" y="17.5">IT32</text></g>
<g id="m5-IT6" class="box" transform="translate(748.8 1416)"><rect width="33" height="27"/><text x="16.5" y="17.5">IT6</text></g>
<g id="m5-IT9" class="box" transform="translate(785.1 1416)"><rect width="33" height="27"/><text x="16.5" y="17.5">IT9</text></g>
<g id="m5-IT15" class="box" transform="translate(821.4 1416)"><rect width="33" height="27"/><text x="16.5" y="17.5">IT15</text></g>
<g id="m5-IT23" class="box" transform="translate(857.7 1416)"><rect width="33" height="27"/><text x="16.5" y="17.5">IT23</text></g>
<g id="m5-IT35" class="box" transform="translate(894 1416)"><rect width="33" height="27"/><text x="16.5" y="17.5">IT35</text></g>
<g id="m5-IT1" class="box" transform="translate(936 1416)"><rect width="33" height="27"/><text x="16.5" y="17.5">IT1</text></g>
<g id="m5-IT4" class="box" transform="translate(972.3 1416)"><rect width="33" height="27"/><text x="16.5" y="17.5">IT4</text></g>
<g id="m5-IT17" class="box" transform="translate(1008.6 1416)"><rect width="33" height="27"/><text x="16.5" y="17.5">IT17</text></g>
<g id="m5-IT21" class="box" transform="translate(1044.9 1416)"><rect width="33" height="27"/><text x="16.5" y="17.5">IT21</text></g>
<g id="m5-IT30" class="box" transform="translate(1081.2 1416)"><rect width="33" height="27"/><text x="16.5" y="17.5">IT30</text></g>
<g id="m5-IT7" class="box" transform="translate(1123.2 1416)"><rect width="33" height="27"/><text x="16.5" y="17.5">IT7</text></g>
<g id="m5-IT10" class="box" transform="translate(1159.5 1416)"><rect width="33" height="27"/><text x="16.5" y="17.5">IT10</text></g>
<g id="m5-IT16" class="box" transform="translate(1195.8 1416)"><rect width="33" height="27"/><text x="16.5" y="17.5">IT16</text></g>
<g id="m5-IT24" class="box" transform="translate(1232.1 1416)"><rect width="33" height="27"/><text x="16.5" y="17.5">IT24</text></g>
<g id="m5-IT29" class="box" transform="translate(1268.4 1416)"><rect width="33" height="27"/><text x="16.5" y="17.5">IT29</text></g>
</g>
</g>
</g>
</svg>
